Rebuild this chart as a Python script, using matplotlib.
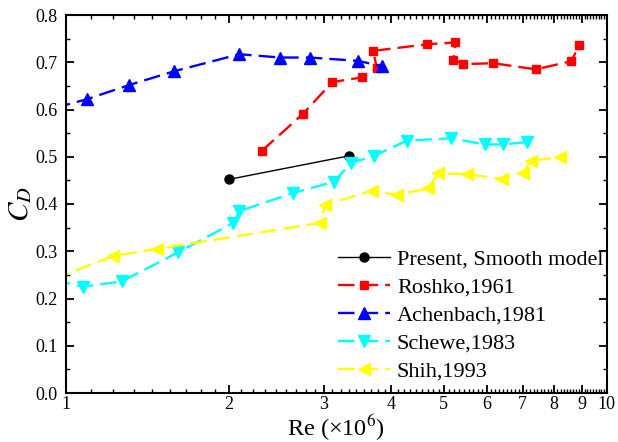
import numpy as np
import matplotlib.pyplot as plt
import matplotlib as mpl
from matplotlib.ticker import FixedLocator, NullFormatter

mpl.rcParams.update({
    "font.family": "serif",
    "font.serif": ["Liberation Serif", "DejaVu Serif"],
    "mathtext.fontset": "stix",
    "axes.linewidth": 1.5,
    "xtick.direction": "in",
    "ytick.direction": "in",
    "xtick.top": True,
    "ytick.right": True,
})

# Re (x1e6) and drag coefficient for each data set
present_re = [2.0, 3.34]
present_cd = [0.452, 0.502]

roshko_re = [2.30, 2.74, 3.11, 3.53, 3.76, 3.70, 4.65, 5.25, 5.21, 5.43, 6.17, 7.40, 8.60, 8.91]
roshko_cd = [0.512, 0.590, 0.658, 0.668, 0.687, 0.724, 0.738, 0.742, 0.705, 0.696, 0.698, 0.685, 0.702, 0.736]

achen_re = [0.95, 1.095, 1.31, 1.586, 2.093, 2.489, 2.828, 3.465, 3.838]
achen_cd = [0.603, 0.622, 0.652, 0.681, 0.717, 0.710, 0.710, 0.703, 0.692]

schewe_re = [0.95, 1.074, 1.268, 1.614, 2.039, 2.093, 2.627, 3.132, 3.368, 3.719,
             4.269, 5.149, 5.961, 6.443, 7.118]
schewe_cd = [0.239, 0.225, 0.236, 0.298, 0.360, 0.385, 0.423, 0.447, 0.487, 0.502,
             0.534, 0.539, 0.526, 0.526, 0.531]

shih_re = [0.95, 1.223, 1.472, 2.951, 3.015, 3.679, 4.09, 4.669, 4.885, 5.511,
           6.399, 6.998, 7.25, 8.2]
shih_cd = [0.241, 0.290, 0.305, 0.360, 0.398, 0.428, 0.419, 0.433, 0.465, 0.463,
           0.453, 0.466, 0.491, 0.500]

fig = plt.figure(figsize=(6.18, 4.42), dpi=100)
ax = fig.add_axes([66 / 618, 49 / 442, 540.5 / 618, 378 / 442])

DASH = (7, 3)
ax.plot(present_re, present_cd, color="black", lw=1.0, marker="o", ms=6.5,
        label="Present, Smooth model")
ax.plot(roshko_re, roshko_cd, color="#FF0000", lw=1.7, dashes=DASH, marker="s",
        ms=6.3, label="Roshko,1961")
ax.plot(achen_re, achen_cd, color="#0000FF", lw=1.7, dashes=DASH, marker="^",
        ms=8, label="Achenbach,1981")
ax.plot(schewe_re, schewe_cd, color="#00FFFF", lw=1.7, dashes=DASH, marker="v",
        ms=8, label="Schewe,1983")
ax.plot(shih_re, shih_cd, color="#FFFF00", lw=1.7, dashes=DASH, marker="<",
        ms=8, label="Shih,1993")

ax.set_xscale("log")
ax.set_xlim(1, 10)
ax.set_ylim(0, 0.8)

majors = list(range(1, 11))
minors = [m + k / 9 for m in range(1, 10) for k in range(1, 9)]
ax.xaxis.set_major_locator(FixedLocator(majors))
ax.xaxis.set_minor_locator(FixedLocator(minors))
ax.set_xticklabels([str(m) for m in majors])
ax.xaxis.set_minor_formatter(NullFormatter())
ax.set_yticks(np.arange(0, 0.81, 0.1))
ax.set_yticks(np.arange(0.05, 0.8, 0.1), minor=True)
ax.set_yticklabels([f"{v:.1f}" for v in np.arange(0, 0.81, 0.1)])

ax.tick_params(which="major", length=5.5, width=1.3, labelsize=13)
ax.tick_params(which="minor", length=3, width=1.0)
ax.tick_params(axis="x", which="major", pad=2)
ax.tick_params(axis="y", which="major", pad=6)

ax.set_xlabel("Re (×10$^{6}$)", fontsize=17.5, labelpad=0)
ax.set_ylabel("$C_D$", fontsize=21, labelpad=1)

leg = ax.legend(loc="upper left", bbox_to_anchor=((338 - 66) / 540.5, (393 - 249) / 378),
                frameon=False, fontsize=16, handlelength=2.35, handletextpad=0.3,
                labelspacing=0.34, borderpad=0, borderaxespad=0, numpoints=1)
leg.set_zorder(2)

fig.savefig("out.png", dpi=100)
